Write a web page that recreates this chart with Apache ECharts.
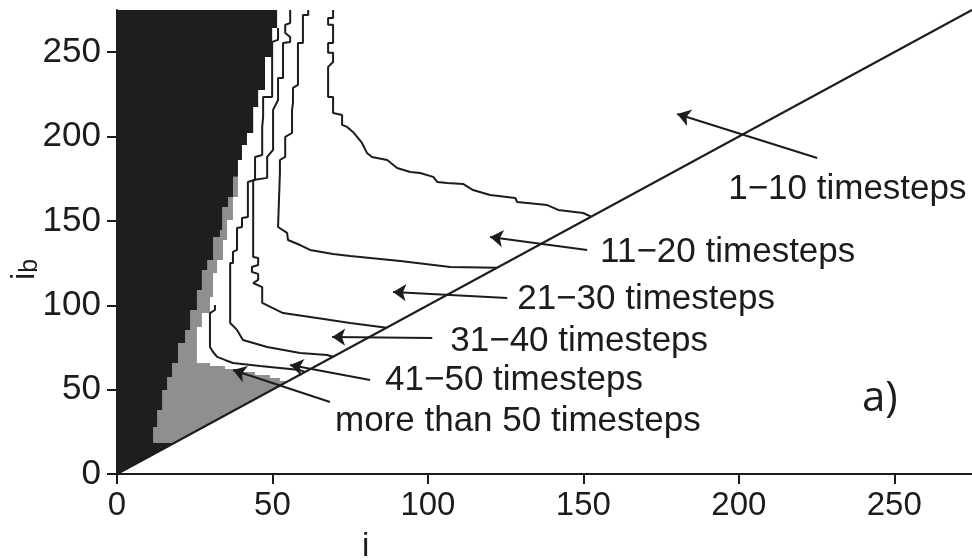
<!DOCTYPE html>
<html>
<head>
<meta charset="utf-8">
<script src="https://cdn.jsdelivr.net/npm/echarts@6/dist/echarts.min.js"></script>
<style>
  html, body { margin: 0; padding: 0; background: #ffffff; }
  #chart { width: 972px; height: 560px; }
</style>
</head>
<body>
<div id="chart"></div>
<script>
// Axis extent and tick step (i on x, i_b on y)
const axisMax = 275;
const tickStep = 50;

// Right-hand edge of the unstable (black) region, top to bottom
const blackEdge = [
  [51.5, 275], [51.5, 264.4], [49.9, 264.4], [49.9, 247.2], [47.6, 247.2],
  [47.6, 227.6], [45.4, 227.6], [45.4, 217.5], [43.8, 217.5], [43.8, 202.1],
  [41.8, 202.1], [41.8, 195.0], [40.2, 195.0], [40.2, 186.1], [38.9, 186.1],
  [38.9, 176.1], [37.3, 176.1], [37.3, 164.2], [35.7, 164.2], [35.7, 158.3],
  [33.8, 158.3], [33.8, 144.6], [33.1, 144.6], [33.1, 140.5], [30.9, 140.5],
  [30.9, 126.9], [29.0, 126.9], [29.0, 120.9], [27.3, 120.9], [27.3, 109.1],
  [25.7, 109.1], [25.7, 97.2], [23.5, 97.2], [23.5, 85.4], [21.9, 85.4],
  [21.9, 77.7], [19.6, 77.7], [19.6, 65.8], [17.7, 65.8], [17.7, 57.5],
  [16.1, 57.5], [16.1, 49.8], [14.5, 49.8], [14.5, 37.9], [12.9, 37.9],
  [12.9, 27.9], [11.6, 27.9], [11.6, 18.4], [18.4, 18.4]
];

// Right-hand edge of the "more than 50 timesteps" (grey) region
const grayEdge = [
  [38.9, 176.1], [38.9, 164.2], [37.3, 164.2], [37.3, 150.6], [35.4, 150.6],
  [35.4, 138.7], [34.1, 138.7], [34.1, 126.9], [32.2, 126.9], [32.2, 119.1],
  [30.9, 119.1], [30.9, 104.9], [29.9, 104.9], [29.9, 95.4], [27.3, 95.4],
  [27.3, 87.1], [25.7, 87.1], [25.7, 65.8], [29.9, 65.8], [29.9, 64.0],
  [34.7, 64.0], [34.7, 62.2], [39.6, 62.2], [39.6, 60.5], [44.4, 60.5],
  [44.4, 58.7], [49.2, 58.7], [49.2, 56.9], [52.4, 56.9], [52.4, 55.1],
  [55.1, 55.1]
];

// Contour lines between the timestep classes
const contour10 = [
  [69.5, 275], [69.5, 270.3], [67.9, 270.3], [67.9, 266.2], [69.5, 266.2],
  [69.5, 255.5], [67.9, 255.5], [67.9, 249.6], [69.5, 249.6], [69.5, 244.2],
  [67.9, 241.3], [67.9, 223.5], [69.5, 223.5], [69.5, 214.0], [72.4, 212.8],
  [72.4, 206.9], [74.0, 205.7], [75.9, 202.7], [78.8, 196.2], [80.4, 190.3],
  [82.0, 187.9], [86.9, 186.1], [90.1, 181.4], [94.3, 179.0], [97.5, 178.4],
  [101.7, 176.1], [103.0, 173.1], [106.2, 172.5], [111.3, 171.9], [114.5, 168.3],
  [120.0, 165.4], [128.1, 163.6], [128.7, 161.2], [138.4, 159.4], [141.9, 156.5],
  [149.9, 154.7], [152.5, 152.5]
];
const contour20 = [
  [61.5, 275], [61.5, 272.1], [59.8, 272.1], [59.8, 255.5], [58.2, 255.5],
  [58.2, 230.6], [56.6, 228.8], [56.6, 219.9], [56.3, 215.8], [56.3, 202.1],
  [54.1, 199.8], [54.1, 187.9], [52.4, 186.1], [52.4, 178.4], [51.8, 178.4],
  [51.8, 146.4], [54.7, 142.9], [55.0, 138.7], [58.9, 135.7], [62.1, 132.8],
  [69.5, 130.4], [75.0, 129.2], [91.1, 126.3], [107.2, 122.7], [122.2, 122.2]
];
const contour30 = [
  [55.7, 275], [55.7, 267.3], [54.1, 266.2], [54.1, 261.4], [55.7, 259.0],
  [55.7, 256.1], [53.4, 255.5], [53.4, 234.7], [51.8, 234.7], [51.8, 221.7],
  [50.2, 215.8], [50.2, 192.1], [48.3, 187.9], [48.3, 175.5], [43.8, 174.3],
  [43.8, 128.6], [45.4, 128.0], [45.4, 123.9], [43.4, 122.7], [43.4, 119.7],
  [45.4, 118.6], [45.4, 115.0], [43.8, 113.2], [46.7, 110.8], [46.7, 101.4],
  [53.4, 95.4], [64.3, 92.5], [75.0, 89.5], [86.7, 86.7]
];
const contour40 = [
  [51.8, 264.4], [51.8, 257.3], [49.9, 256.1], [49.9, 223.5], [47.0, 223.5],
  [47.0, 211.6], [46.7, 205.7], [46.7, 189.1], [44.4, 187.9], [44.4, 174.3],
  [42.1, 173.1], [42.1, 152.3], [40.2, 151.7], [40.2, 146.4], [38.6, 145.8],
  [38.6, 132.8], [37.3, 131.6], [37.3, 125.1], [36.4, 125.1], [36.4, 89.5],
  [38.6, 85.4], [40.5, 79.4], [48.3, 75.3], [58.9, 71.7], [67.6, 70.5],
  [69.5, 69.5]
];
const contour50 = [
  [31.5, 100.2], [31.5, 97.2], [29.9, 95.4], [29.9, 75.3], [30.9, 72.3],
  [32.2, 69.4], [34.7, 67.6], [37.3, 65.8], [46.0, 64.0], [52.4, 62.8],
  [58.9, 61.6], [60.5, 60.5]
];

// Stability limit i_b = i
const diagonal = [[0, 0], [axisMax, axisMax]];

// Annotation arrows: tail (next to the text) and head
const classNames = [
  '1\u221210 timesteps', '11\u221220 timesteps', '21\u221230 timesteps',
  '31\u221240 timesteps', '41\u221250 timesteps', 'more than 50 timesteps'
];
const arrowTails = [
  [225.2, 187.3], [151.2, 132.8], [125.5, 104.3], [101.4, 80.6], [81.4, 55.7], [68.5, 42.7]
];
const arrowHeads = [
  [180.2, 213.4], [120.0, 140.5], [88.8, 107.9], [69.2, 81.2], [55.7, 64.6], [37.3, 61.6]
];
// Text placement relative to each arrow tail, in pixels
const labelOffsets = [[-89, 31], [13, 2], [10, 1], [18, 3], [15, 0], [5, 19]];

const ink = '#1c1c1c';
const font = 'Liberation Sans, Arial, sans-serif';

function regionSeries(points, color, z) {
  return {
    type: 'custom',
    z: z,
    silent: true,
    clip: true,
    data: points,
    encode: { x: 0, y: 1 },
    renderItem: function (params, api) {
      if (params.dataIndex !== 0) return null;
      const pts = points.map(function (p) { return api.coord(p); });
      return { type: 'polygon', shape: { points: pts }, style: { fill: color, stroke: null } };
    }
  };
}

function lineSeries(points, z) {
  return {
    type: 'line',
    z: z,
    data: points,
    showSymbol: false,
    silent: true,
    clip: true,
    lineStyle: { color: ink, width: 2 },
    animation: false
  };
}

// Grey region: from the axis over to its right-hand edge and down the diagonal
const grayPolygon = [[0, 0], [0, grayEdge[0][1]]].concat(grayEdge);
// Black region: bounded by the i_b axis, the top, its edge and the diagonal
const blackPolygon = [[0, 0], [0, axisMax]].concat(blackEdge);

const chart = echarts.init(document.getElementById('chart'), null, { renderer: 'canvas' });

const axisCommon = {
  type: 'value', min: 0, max: axisMax, interval: tickStep,
  axisLine: { show: true, onZero: false, lineStyle: { color: ink, width: 2 } },
  axisTick: { show: true, length: 10, lineStyle: { color: ink, width: 2 } },
  splitLine: { show: false }
};

chart.setOption({
  animation: false,
  backgroundColor: '#ffffff',
  grid: { left: 117, right: 0, top: 10, bottom: 86, containLabel: false, outerBoundsMode: 'none' },
  xAxis: Object.assign({}, axisCommon, {
    axisLabel: { color: ink, fontSize: 33, fontFamily: font, margin: 15, showMaxLabel: false }
  }),
  yAxis: Object.assign({}, axisCommon, {
    axisLabel: { color: ink, fontSize: 35, fontFamily: font, margin: 16, showMaxLabel: false }
  }),
  series: [
    regionSeries(grayPolygon, '#8f8f8f', 1),
    regionSeries(blackPolygon, '#1e1e1e', 2),
    lineSeries(contour10, 3),
    lineSeries(contour20, 3),
    lineSeries(contour30, 3),
    lineSeries(contour40, 3),
    lineSeries(contour50, 3),
    lineSeries(diagonal, 4),
    {
      type: 'lines',
      coordinateSystem: 'cartesian2d',
      z: 5,
      silent: true,
      symbol: ['none', 'arrow'],
      symbolSize: 13,
      lineStyle: { color: ink, width: 2, opacity: 1 },
      data: arrowTails.map(function (t, k) { return { coords: [t, arrowHeads[k]] }; })
    }
  ]
});

// Class names next to the arrow tails, plus panel letter and axis names
const texts = arrowTails.map(function (t, k) {
  const p = chart.convertToPixel({ gridIndex: 0 }, t);
  return {
    type: 'text', x: p[0] + labelOffsets[k][0], y: p[1] + labelOffsets[k][1], z: 10,
    style: { text: classNames[k], fill: ink, fontSize: 35, fontFamily: font, align: 'left', verticalAlign: 'middle' }
  };
});
texts.push(
  {
    type: 'text', left: 862, top: 378,
    style: { text: 'a)', fill: ink, fontSize: 42, fontFamily: 'Open Sans, Liberation Sans, sans-serif' }
  },
  {
    type: 'text', left: 362, top: 530,
    style: { text: 'i', fill: ink, fontSize: 33, fontFamily: font }
  },
  {
    type: 'text', x: 6, y: 280, rotation: Math.PI / 2,
    style: {
      text: '{m|i}{s|b}',
      rich: {
        m: { fontSize: 33, fontFamily: font, fill: ink },
        s: { fontSize: 25, fontFamily: font, fill: ink, verticalAlign: 'bottom', padding: [12, 0, 0, 0] }
      }
    }
  }
);
chart.setOption({ graphic: texts });
</script>
</body>
</html>
